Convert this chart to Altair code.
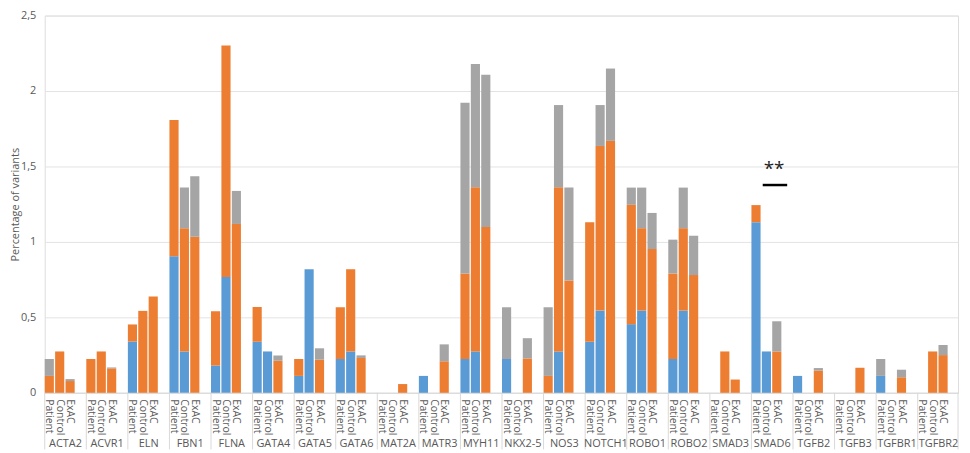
import altair as alt
import pandas as pd

genes = ["ACTA2", "ACVR1", "ELN", "FBN1", "FLNA", "GATA4", "GATA5", "GATA6",
         "MAT2A", "MATR3", "MYH11", "NKX2-5", "NOS3", "NOTCH1", "ROBO1", "ROBO2",
         "SMAD3", "SMAD6", "TGFB2", "TGFB3", "TGFBR1", "TGFBR2"]
groups = ["Patient", "Control", "ExAC"]
series = ["S1", "S2", "S3"]

# Patient
patient_s1 = [0, 0, 0.34, 0.905, 0.181, 0.338, 0.112, 0.224, 0, 0.112, 0.224, 0.224,
              0, 0.338, 0.455, 0.224, 0, 1.131, 0.112, 0, 0.112, 0]
patient_s2 = [0.112, 0.224, 0.113, 0.903, 0.36, 0.231, 0.112, 0.343, 0, 0, 0.567, 0,
              0.112, 0.793, 0.791, 0.567, 0, 0.113, 0, 0, 0, 0]
patient_s3 = [0.112, 0, 0, 0, 0, 0, 0, 0, 0, 0, 1.131, 0.343,
              0.455, 0, 0.114, 0.224, 0, 0, 0, 0, 0.112, 0]
# Control
control_s1 = [0, 0, 0, 0.274, 0.767, 0.274, 0.819, 0.274, 0, 0, 0.274, 0,
              0.274, 0.545, 0.545, 0.545, 0, 0.274, 0, 0, 0, 0]
control_s2 = [0.274, 0.274, 0.543, 0.817, 1.535, 0, 0, 0.545, 0, 0, 1.088, 0,
              1.088, 1.091, 0.546, 0.546, 0.274, 0, 0, 0, 0, 0.274]
control_s3 = [0, 0, 0, 0.27, 0, 0, 0, 0, 0, 0, 0.817, 0,
              0.545, 0.271, 0.269, 0.269, 0, 0, 0, 0, 0, 0]
# ExAC
exac_s1 = [0] * 22
exac_s2 = [0.078, 0.162, 0.638, 1.034, 1.119, 0.213, 0.22, 0.231, 0.058, 0.209, 1.099, 0.228,
           0.744, 1.67, 0.953, 0.78, 0.088, 0.274, 0.147, 0.166, 0.103, 0.25]
exac_s3 = [0.013, 0.006, 0, 0.401, 0.219, 0.035, 0.075, 0.017, 0, 0.112, 1.009, 0.134,
           0.616, 0.479, 0.239, 0.261, 0, 0.2, 0.017, 0, 0.05, 0.067]

colors = ["#5B9BD5", "#ED7D31", "#A5A5A5"]

values = {
    "Patient": [patient_s1, patient_s2, patient_s3],
    "Control": [control_s1, control_s2, control_s3],
    "ExAC": [exac_s1, exac_s2, exac_s3],
}

rows = []
for gi, g in enumerate(genes):
    for grp in groups:
        for si, s in enumerate(series):
            v = values[grp][si][gi]
            rows.append({"key": f"{g}|{grp}", "gene": g, "group": grp,
                         "series": s, "order": si, "value": v})
df = pd.DataFrame(rows)

domain_keys = []
for g in genes:
    for grp in groups + [""]:
        domain_keys.append(f"{g}|{grp}")

gene_df = pd.DataFrame({"key": [f"{g}|ExAC" for g in genes], "gene": genes})
sep_df = pd.DataFrame({"key": [f"{g}|Patient" for g in genes] + [f"{genes[-1]}|"],
                       "pos": [0.0] * len(genes) + [1.0]})

W, H = 920, 380
font = "Open Sans"
txt = "#595959"

xscale = alt.Scale(domain=domain_keys, paddingInner=0.12, paddingOuter=0)

bars = alt.Chart(df).mark_bar().encode(
    x=alt.X("key:N", scale=xscale, sort=domain_keys,
            axis=alt.Axis(
                title=None,
                labelExpr="split(datum.value, '|')[1]",
                labelAngle=90, labelAlign="left", labelBaseline="middle",
                labelFont=font, labelFontSize=10.5, labelColor=txt,
                ticks=False, labelPadding=6,
                domainColor="#D9D9D9", labelOverlap=False, labelBound=False)),
    y=alt.Y("value:Q", stack="zero",
            scale=alt.Scale(domain=[0, 2.5], nice=False),
            axis=alt.Axis(title="Percentage of variants", values=[0, 0.5, 1, 1.5, 2, 2.5],
                          labelExpr="replace(format(datum.value, '~g'), '.', ',')",
                          labelFont=font, labelFontSize=11, labelColor=txt,
                          titleFont=font, titleFontSize=11, titleColor=txt,
                          titleFontWeight="normal", titleX=-29, titleBaseline="middle",
                          ticks=False, domain=False, labelPadding=9,
                          gridColor="#E3E3E3")),
    color=alt.Color("series:N", scale=alt.Scale(domain=series, range=colors), legend=None),
    order=alt.Order("order:Q", sort="ascending"),
)

seps_start = alt.Chart(sep_df.iloc[:-1]).mark_rule(color="#D9D9D9", strokeWidth=1).encode(
    x=alt.X("key:N", scale=xscale, sort=domain_keys, bandPosition=0),
    y=alt.value(H),
    y2=alt.value(H + 57),
)
seps_end = alt.Chart(sep_df.iloc[-1:]).mark_rule(color="#D9D9D9", strokeWidth=1).encode(
    x=alt.X("key:N", scale=xscale, sort=domain_keys, bandPosition=1),
    y=alt.value(H),
    y2=alt.value(H + 57),
)

gene_labels = alt.Chart(gene_df).mark_text(
    font=font, fontSize=11, color=txt, baseline="middle", align="center"
).encode(
    x=alt.X("key:N", scale=xscale, sort=domain_keys, bandPosition=0),
    y=alt.value(H + 52),
    text="gene:N",
)

sig_line_df = pd.DataFrame({"x1": ["SMAD6|Control"], "x2": ["SMAD6|"], "y": [1.377]})
sig_line = alt.Chart(sig_line_df).mark_rule(color="black", strokeWidth=2.5).encode(
    x=alt.X("x1:N", scale=xscale, sort=domain_keys, bandPosition=0.1),
    x2=alt.X2("x2:N", bandPosition=0.5),
    y="y:Q",
)
sig_text_df = pd.DataFrame({"x": ["SMAD6|ExAC"], "y": [1.42], "t": ["**"]})
sig_text = alt.Chart(sig_text_df).mark_text(
    font=font, fontSize=19, color="#222222", baseline="bottom", align="center"
).encode(
    x=alt.X("x:N", scale=xscale, sort=domain_keys, bandPosition=0.2),
    y="y:Q",
    text="t:N",
)

chart = alt.layer(bars, seps_start, seps_end, gene_labels, sig_line, sig_text).properties(
    width=W, height=H,
    autosize=alt.AutoSizeParams(type="none"),
    padding={"left": 37, "top": 6, "right": 4, "bottom": 59},
).configure_view(stroke=None).configure(background="white")

chart.save("out.html", embed_options={"renderer": "svg", "actions": False})
